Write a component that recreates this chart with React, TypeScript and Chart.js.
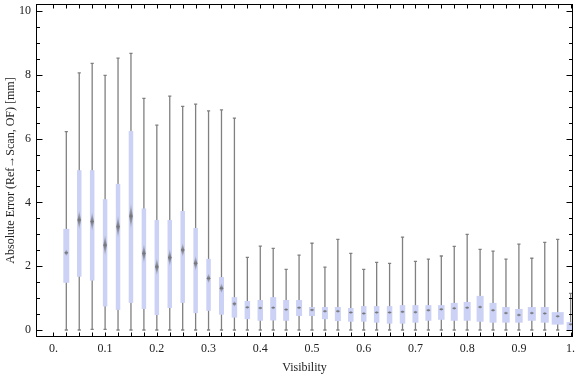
import React, { useEffect, useRef } from "react";
import { Chart, registerables } from "chart.js";
Chart.register(...registerables);

// ---- data ----
const visibility = [
  0.025, 0.05, 0.075, 0.1, 0.125, 0.15, 0.175, 0.2, 0.225, 0.25,
  0.275, 0.3, 0.325, 0.35, 0.375, 0.4, 0.425, 0.45, 0.475, 0.5,
  0.525, 0.55, 0.575, 0.6, 0.625, 0.65, 0.675, 0.7, 0.725, 0.75,
  0.775, 0.8, 0.825, 0.85, 0.875, 0.9, 0.925, 0.95, 0.975, 1.0,
];
const whiskerMax = [
  6.22, 8.06, 8.36, 7.98, 8.52, 8.67, 7.26, 6.42, 7.33, 7.01,
  7.08, 6.87, 6.9, 6.64, 2.28, 2.63, 2.56, 1.9, 2.35, 2.72,
  1.97, 2.84, 2.4, 1.9, 2.12, 2.09, 2.91, 2.15, 2.22, 2.32,
  2.62, 3.0, 2.53, 2.47, 2.22, 2.69, 2.25, 2.75, 2.84, 1.15,
];
const q3 = [
  3.17, 5.01, 5.01, 4.1, 4.58, 6.24, 3.81, 3.45, 3.45, 3.73,
  3.2, 2.23, 1.66, 1.03, 0.91, 0.94, 1.03, 0.94, 0.94, 0.72,
  0.72, 0.72, 0.69, 0.75, 0.75, 0.75, 0.78, 0.78, 0.78, 0.78,
  0.85, 0.88, 1.07, 0.85, 0.72, 0.66, 0.72, 0.72, 0.56, 0.25,
];
const median = [
  2.42, 3.45, 3.4, 2.66, 3.24, 3.57, 2.4, 1.98, 2.27, 2.51,
  2.09, 1.62, 1.31, 0.82, 0.71, 0.69, 0.7, 0.64, 0.7, 0.63,
  0.59, 0.59, 0.55, 0.52, 0.55, 0.55, 0.57, 0.56, 0.62, 0.65,
  0.68, 0.7, 0.72, 0.62, 0.53, 0.47, 0.53, 0.52, 0.43, 0.18,
];
const q1 = [
  1.48, 1.67, 1.55, 0.74, 0.63, 0.85, 0.66, 0.47, 0.69, 0.85,
  0.53, 0.6, 0.48, 0.39, 0.34, 0.29, 0.3, 0.29, 0.44, 0.44,
  0.34, 0.28, 0.26, 0.26, 0.23, 0.2, 0.2, 0.23, 0.29, 0.32,
  0.29, 0.29, 0.26, 0.23, 0.23, 0.23, 0.29, 0.23, 0.17, 0.0,
];
const whiskerMin = [
  0, 0, 0.02, 0.02, 0, 0, 0, 0, 0, 0,
  0, 0, 0, 0, 0, 0, 0, 0, 0, 0,
  0, 0, 0, 0, 0, 0, 0, 0, 0, 0,
  0, 0, 0, 0, 0, 0, 0, 0, 0, 0,
];
// half-height of the median notch (confidence band) in mm
const medianNotch = [
  0.11, 0.31, 0.31, 0.34, 0.36, 0.42, 0.31, 0.28, 0.28, 0.22,
  0.24, 0.16, 0.16, 0.1, 0.06, 0.06, 0.06, 0.06, 0.06, 0.06,
  0.06, 0.06, 0.06, 0.06, 0.06, 0.06, 0.06, 0.06, 0.06, 0.06,
  0.06, 0.06, 0.06, 0.06, 0.06, 0.06, 0.06, 0.06, 0.06, 0.06,
];
const xTickValues = [0, 0.1, 0.2, 0.3, 0.4, 0.5, 0.6, 0.7, 0.8, 0.9, 1.0];
const xTickLabels = ["0.", "0.1", "0.2", "0.3", "0.4", "0.5", "0.6", "0.7", "0.8", "0.9", "1."];
const yTickValues = [0, 2, 4, 6, 8, 10];
const yTickLabels = ["0", "2", "4", "6", "8", "10"];

// ---- styles ----
const boxWidthPx = [
  6, 4.5, 4.5, 4.5, 4.5, 4.5, 4.5, 4.5, 4.5, 4.5,
  4.5, 4.5, 5, 5.5, 5.5, 5.5, 6, 6, 6, 6,
  6, 6, 5.5, 5.5, 5.5, 5.5, 5.5, 6, 6, 6.5,
  7, 7, 7, 7, 7.5, 7.5, 8, 8, 12, 8,
];
const BOX_COLOR = "rgb(204,210,245)";
const WHISKER_COLOR = "rgb(128,128,128)";
const TEXT_COLOR = "#222";
const FONT = { family: "'Liberation Serif', 'Times New Roman', serif", size: 12 };

export default function App() {
  const ref = useRef<HTMLCanvasElement>(null);

  useEffect(() => {
    document.body.style.margin = "0";
    const canvas = ref.current!;

    const boxPlugin = {
      id: "boxWhisker",
      beforeDatasetsDraw(chart: any) {
        const { ctx, chartArea: a, scales } = chart;
        const x = scales.x, y = scales.y;
        ctx.save();
        ctx.beginPath();
        ctx.rect(a.left, a.top, a.right - a.left, a.bottom - a.top);
        ctx.clip();
        visibility.forEach((v, i) => {
          const px = x.getPixelForValue(v);
          const yMin = y.getPixelForValue(whiskerMin[i]);
          const yMax = y.getPixelForValue(whiskerMax[i]);
          ctx.strokeStyle = WHISKER_COLOR;
          ctx.lineWidth = 1.3;
          ctx.beginPath();
          ctx.moveTo(px, yMin);
          ctx.lineTo(px, yMax);
          ctx.moveTo(px - 1.6, yMin);
          ctx.lineTo(px + 1.6, yMin);
          ctx.moveTo(px - 1.6, yMax);
          ctx.lineTo(px + 1.6, yMax);
          ctx.stroke();

          const w = boxWidthPx[i];
          const yq1 = y.getPixelForValue(q1[i]);
          const yq3 = y.getPixelForValue(q3[i]);
          ctx.fillStyle = BOX_COLOR;
          ctx.fillRect(px - w / 2, yq3, w, yq1 - yq3);

          // median notch marker
          const ym = y.getPixelForValue(median[i]);
          let top = y.getPixelForValue(median[i] + medianNotch[i]);
          let bot = y.getPixelForValue(median[i] - medianNotch[i]);
          if (bot - top < 4) { top = ym - 2; bot = ym + 2; }
          const g = ctx.createLinearGradient(0, top, 0, bot);
          g.addColorStop(0, "rgba(120,120,120,0.1)");
          g.addColorStop(0.5, "rgba(100,100,100,0.85)");
          g.addColorStop(1, "rgba(120,120,120,0.1)");
          ctx.fillStyle = g;
          ctx.beginPath();
          ctx.moveTo(px, top);
          ctx.lineTo(px + 1.7, ym);
          ctx.lineTo(px, bot);
          ctx.lineTo(px - 1.7, ym);
          ctx.closePath();
          ctx.fill();
          ctx.strokeStyle = "rgba(120,120,120,0.7)";
          ctx.lineWidth = 1;
          ctx.beginPath();
          ctx.moveTo(px - 1.8, ym);
          ctx.lineTo(px + 1.8, ym);
          ctx.stroke();
        });
        ctx.restore();
      },
      afterDraw(chart: any) {
        const { ctx, chartArea: a, scales } = chart;
        const x = scales.x, y = scales.y;
        ctx.save();
        ctx.strokeStyle = "#000";
        ctx.lineWidth = 1;
        const L = Math.round(a.left) + 0.5, R = Math.round(a.right) - 0.5;
        const T = Math.round(a.top) + 0.5, B = Math.round(a.bottom) - 0.5;
        ctx.strokeRect(L, T, R - L, B - T);
        ctx.beginPath();
        // x ticks every 0.025 (box positions), top and bottom, inward
        [0, ...visibility].forEach((v) => {
          const px = Math.round(x.getPixelForValue(v)) + 0.5;
          ctx.moveTo(px, B);
          ctx.lineTo(px, B - 4);
          ctx.moveTo(px, T);
          ctx.lineTo(px, T + 4);
        });
        // y ticks: major every 2, minor every 0.5
        for (let k = 0; k <= 20; k++) {
          const v = k * 0.5;
          const len = k % 4 === 0 ? 6 : 3.5;
          const py = Math.round(y.getPixelForValue(v)) + 0.5;
          ctx.moveTo(L, py);
          ctx.lineTo(L + len, py);
          ctx.moveTo(R, py);
          ctx.lineTo(R - len, py);
        }
        ctx.stroke();
        ctx.restore();
      },
    };

    const chart = new Chart(canvas, {
      type: "scatter",
      data: {
        datasets: [
          {
            data: visibility.map((v, i) => ({ x: v, y: median[i] })),
            pointRadius: 0,
            showLine: false,
          },
        ],
      },
      options: {
        responsive: false,
        animation: false,
        devicePixelRatio: 1,
        layout: { padding: { left: 0, right: 3, top: 4, bottom: 0 } },
        plugins: { legend: { display: false }, tooltip: { enabled: false } },
        scales: {
          x: {
            type: "linear",
            min: -0.0336,
            max: 1.0046,
            grid: { display: false, drawTicks: false },
            border: { display: false },
            afterBuildTicks: (s: any) => {
              s.ticks = xTickValues.map((v) => ({ value: v }));
            },
            afterFit: (s: any) => {
              s.height = 40;
              s.paddingLeft = 0;
              s.paddingRight = 0;
            },
            ticks: {
              callback: (v: any) => {
                const idx = xTickValues.findIndex((t) => Math.abs(t - v) < 1e-9);
                return idx >= 0 ? xTickLabels[idx] : "";
              },
              padding: 5,
              maxRotation: 0,
              autoSkip: false,
              font: FONT,
              color: TEXT_COLOR,
            },
            title: {
              display: true,
              text: "Visibility",
              font: FONT,
              color: TEXT_COLOR,
              padding: { top: 0, bottom: 2 },
            },
          },
          y: {
            type: "linear",
            min: -0.219,
            max: 10.219,
            grid: { display: false, drawTicks: false },
            border: { display: false },
            afterBuildTicks: (s: any) => {
              s.ticks = yTickValues.map((v) => ({ value: v }));
            },
            afterFit: (s: any) => {
              s.width = 36;
              s.paddingTop = 0;
              s.paddingBottom = 0;
            },
            ticks: {
              callback: (v: any) => {
                const idx = yTickValues.findIndex((t) => Math.abs(t - v) < 1e-9);
                return idx >= 0 ? yTickLabels[idx] : "";
              },
              padding: 5,
              autoSkip: false,
              font: FONT,
              color: TEXT_COLOR,
            },
            title: {
              display: true,
              text: "Absolute Error (Ref→Scan, OF) [mm]",
              font: FONT,
              color: TEXT_COLOR,
              padding: { top: 4, bottom: 0 },
            },
          },
        },
      },
      plugins: [boxPlugin],
    } as any);

    return () => chart.destroy();
  }, []);

  return (
    <div style={{ width: 576, height: 377, position: "relative", background: "#fff" }}>
      <canvas ref={ref} width={576} height={377} style={{ display: "block", width: 576, height: 377 }} />
    </div>
  );
}
